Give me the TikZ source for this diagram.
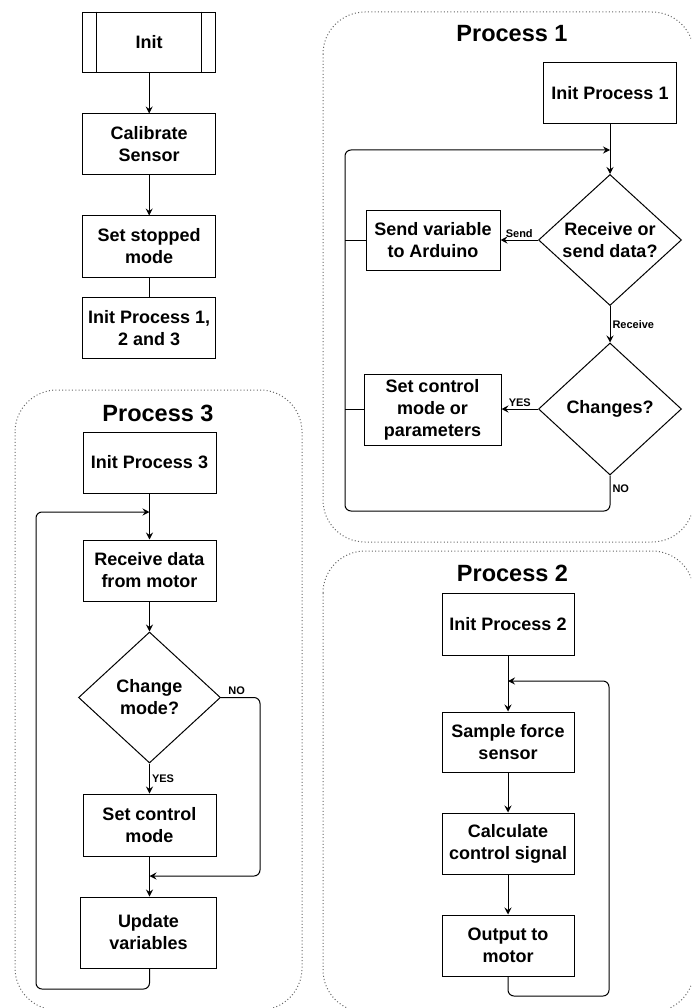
\documentclass[tikz,border=0pt]{standalone}
\usepackage{fontspec}
\setmainfont{Liberation Sans}
\usetikzlibrary{shapes.geometric,arrows.meta}

\begin{document}
\begin{tikzpicture}[x=1pt,y=-1pt,
  box/.style={draw, line width=1pt, align=center, inner sep=0pt,
    font=\fontsize{18}{22}\selectfont\bfseries},
  decision/.style={draw, diamond, aspect=1.1, line width=1pt, align=center, inner sep=0pt,
    minimum width=143, minimum height=131, font=\fontsize{18}{22}\selectfont\bfseries},
  title/.style={font=\fontsize{23.5}{28}\selectfont\bfseries, inner sep=0pt},
  lbl/.style={font=\fontsize{11}{13}\selectfont\bfseries, inner sep=2pt},
  group/.style={draw=black!60, line width=1pt, dash pattern=on 1pt off 2.3pt, rounded corners=42pt},
  line/.style={line width=1pt},
  arrow/.style={line width=1pt, -{Stealth[length=7pt,width=7pt,inset=2.5pt]}},
  loop/.style={arrow, rounded corners=6pt}
]
\useasboundingbox (0,0) rectangle (691,1008);
\clip (0,0) rectangle (691,1008);

% process groups
\draw[group] (323,12) rectangle (694,542);
\draw[group] (323,551) rectangle (694,1012);
\draw[group] (15,390) rectangle (302,1010);

\node[title] (t1) at (512,34) {Process 1};
\node[title] (t3) at (158,413) {Process 3};
\node[title] (t2) at (512.5,573.5) {Process 2};

% start-up sequence
\node[box, minimum width=133, minimum height=60.5] (init) at (149.2,42.5) {Init};
\draw[line] ([xshift=14.5pt]init.north west) -- ([xshift=14.5pt]init.south west);
\draw[line] ([xshift=-14.5pt]init.north east) -- ([xshift=-14.5pt]init.south east);
\node[box, minimum width=133, minimum height=61] (calib) at (149.2,144.5) {Calibrate\\Sensor};
\node[box, minimum width=133, minimum height=61] (stopped) at (149.2,246.5) {Set stopped\\mode};
\node[box, minimum width=133, minimum height=61] (initall) at (149.2,328) {Init Process 1,\\2 and 3};
\draw[arrow] (init) -- (calib);
\draw[arrow] (calib) -- (stopped);
\draw[line] (stopped) -- (initall);

% process 1
\node[box, minimum width=133, minimum height=61] (p1init) at (610,93) {Init Process 1};
\coordinate (p1join) at (610,150);
\node[decision] (p1rs) at (610,240) {Receive or\\send data?};
\node[box, minimum width=134, minimum height=60] (p1send) at (433,240.5) {Send variable\\to Arduino};
\node[decision, minimum height=132] (p1ch) at (610,409) {Changes?};
\node[box, minimum width=137, minimum height=71] (p1set) at (432.5,409.5) {Set control\\mode or\\parameters};
\coordinate (p1br) at (610,511);
\coordinate (p1bl) at (345,511);
\coordinate (p1tl) at (345,150);

\draw[arrow] (p1init) -- (p1rs);
\draw[arrow] (p1rs.west) -- node[lbl, above] {Send} (p1rs.west -| p1send.east);
\draw[arrow] (p1rs) -- node[lbl, right] {Receive} (p1ch);
\draw[arrow] (p1ch.west) -- node[lbl, above] {YES} (p1ch.west -| p1set.east);
\draw[loop] (p1ch.south) -- node[lbl, right, pos=0.36] {NO} (p1br) -- (p1bl) -- (p1tl) -- (p1join);
\draw[line] (p1send.west) -- (p1send.west -| p1tl);
\draw[line] (p1set.west) -- (p1set.west -| p1tl);

% process 3
\node[box, minimum width=133, minimum height=61] (p3init) at (149.5,462.5) {Init Process 3};
\coordinate (p3join) at (149.5,512);
\node[box, minimum width=133, minimum height=61] (p3recv) at (149.5,570.5) {Receive data\\from motor};
\node[decision, minimum width=142] (p3chg) at (149.5,697.5) {Change\\mode?};
\node[box, minimum width=133, minimum height=62] (p3set) at (149.5,825) {Set control\\mode};
\coordinate (p3merge) at (149.5,876);
\coordinate (p3nt) at (260,697.5);
\coordinate (p3nb) at (260,876);
\node[box, minimum width=136, minimum height=71] (p3upd) at (148.5,932.5) {Update\\variables};
\coordinate (p3br) at (149.5,989);
\coordinate (p3bl) at (36,989);
\coordinate (p3tl) at (36,512);

\draw[arrow] (p3init) -- (p3recv);
\draw[arrow] (p3recv) -- (p3chg);
\draw[arrow] (p3chg) -- node[lbl, right] {YES} (p3set);
\draw[arrow] (p3set.south) -- (p3set.south |- p3upd.north);
\draw[loop] (p3chg.east) -- node[lbl, above, pos=0.4] {NO} (p3nt) -- (p3nb) -- (p3merge);
\draw[loop] (p3upd.south -| p3br) -- (p3br) -- (p3bl) -- (p3tl) -- (p3join);

% process 2
\node[box, minimum width=132, minimum height=62] (p2init) at (508,624) {Init Process 2};
\coordinate (p2join) at (508,681);
\node[box, minimum width=132, minimum height=60] (p2samp) at (508,742) {Sample force\\sensor};
\node[box, minimum width=132, minimum height=61] (p2calc) at (508,843.5) {Calculate\\control signal};
\node[box, minimum width=132, minimum height=61] (p2out) at (508,945.5) {Output to\\motor};
\coordinate (p2bl) at (508,996);
\coordinate (p2br) at (609,996);
\coordinate (p2tr) at (609,681);

\draw[arrow] (p2init) -- (p2samp);
\draw[arrow] (p2samp) -- (p2calc);
\draw[arrow] (p2calc) -- (p2out);
\draw[loop] (p2out.south) -- (p2bl) -- (p2br) -- (p2tr) -- (p2join);
\end{tikzpicture}
\end{document}
